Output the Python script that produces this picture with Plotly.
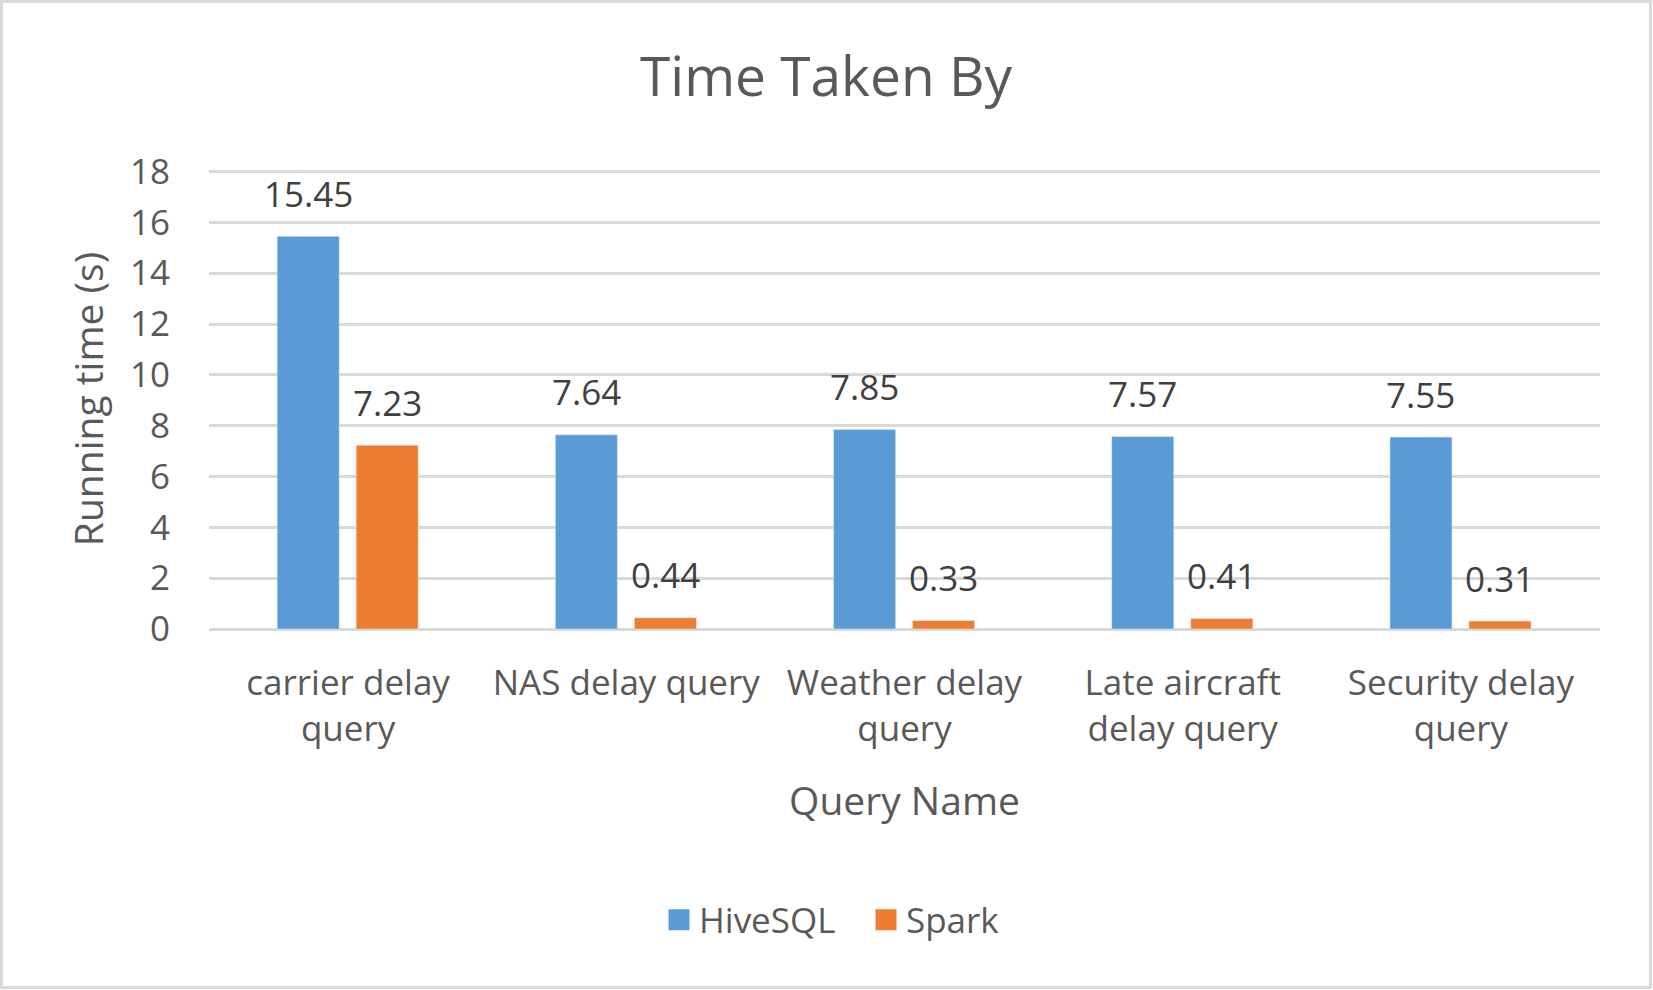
import plotly.graph_objects as go

categories = ["carrier delay<br>query", "NAS delay query", "Weather delay<br>query",
              "Late aircraft<br>delay query", "Security delay<br>query"]
hive = [15.45, 7.64, 7.85, 7.57, 7.55]
spark = [7.23, 0.44, 0.33, 0.41, 0.31]
y_ticks = [0, 2, 4, 6, 8, 10, 12, 14, 16, 18]

W, H = 1653, 990
ML, MR, MT, MB = 209, 53, 169, 361
PW, PH = W - ML - MR, H - MT - MB

BLUE = "#5B9BD5"
ORANGE = "#ED7D31"
FONT = "Open Sans"

bar_w = 0.223
off_blue = -0.255
off_orange = 0.029
xs = list(range(len(categories)))

fig = go.Figure()
fig.add_trace(go.Bar(x=xs, y=hive, name="HiveSQL", marker_color=BLUE,
                     width=bar_w, offset=off_blue, hoverinfo="y", showlegend=False))
fig.add_trace(go.Bar(x=xs, y=spark, name="Spark", marker_color=ORANGE,
                     width=bar_w, offset=off_orange, hoverinfo="y", showlegend=False))
# legend entries with larger square swatches
for name, col in [("HiveSQL", BLUE), ("Spark", ORANGE)]:
    fig.add_trace(go.Scatter(x=[None], y=[None], mode="markers", name=name,
                             marker=dict(symbol="square", size=16, color=col,
                                         line=dict(color=col, width=5)),
                             hoverinfo="skip"))

annotations = []
for i, v in enumerate(hive):
    annotations.append(dict(x=i + off_blue + bar_w / 2, y=v, xref="x", yref="y",
                            text=f"{v:.2f}", showarrow=False, yanchor="middle",
                            yshift=43, font=dict(family=FONT, size=35, color="#404040")))
for i, v in enumerate(spark):
    annotations.append(dict(x=i + off_orange + bar_w / 2, y=v, xref="x", yref="y",
                            text=f"{v:.2f}", showarrow=False, yanchor="middle",
                            yshift=43, font=dict(family=FONT, size=35, color="#404040")))

border = dict(type="rect", xref="paper", yref="paper",
              x0=(1.5 - ML) / PW, x1=(W - 2.5 - ML) / PW,
              y0=(MT + PH - (H - 2.5)) / PH, y1=(MT + PH - 1.5) / PH,
              line=dict(color="#d9d9d9", width=3), fillcolor="rgba(0,0,0,0)", layer="above")

fig.update_layout(
    width=W, height=H,
    margin=dict(l=ML, r=MR, t=MT, b=MB, autoexpand=False),
    paper_bgcolor="white", plot_bgcolor="white",
    barmode="overlay",
    font=dict(family=FONT, color="#595959"),
    title=dict(text="Time Taken By", x=826 / W, xanchor="center", y=1 - 77 / H,
               yanchor="middle", font=dict(family=FONT, size=55, color="#595959")),
    xaxis=dict(range=[-0.5, len(categories) - 0.5], tickvals=xs, ticktext=categories,
               showgrid=False, zeroline=False, showline=False, ticks="",
               ticklabelstandoff=30,
               tickfont=dict(family=FONT, size=35, color="#595959"),
               title=dict(text="Query Name", standoff=38,
                          font=dict(family=FONT, size=39, color="#595959"))),
    yaxis=dict(range=[0, 18.1], tickvals=y_ticks, showgrid=True, gridcolor="#d9d9d9",
               gridwidth=2.5, zeroline=True, zerolinecolor="#d9d9d9", zerolinewidth=2.5,
               showline=False, ticks="", ticklabelstandoff=38,
               tickfont=dict(family=FONT, size=35, color="#595959"),
               title=dict(text="Running time (s)", standoff=14,
                          font=dict(family=FONT, size=39, color="#595959"))),
    legend=dict(orientation="h", x=(659 - ML) / PW, xanchor="left",
                y=(MT + PH - 920) / PH, yanchor="middle",
                font=dict(family=FONT, size=35, color="#595959"),
                itemwidth=30, entrywidth=162, bgcolor="rgba(0,0,0,0)"),
    annotations=annotations,
    shapes=[border],
    showlegend=True,
)

fig.write_html("out.html")
